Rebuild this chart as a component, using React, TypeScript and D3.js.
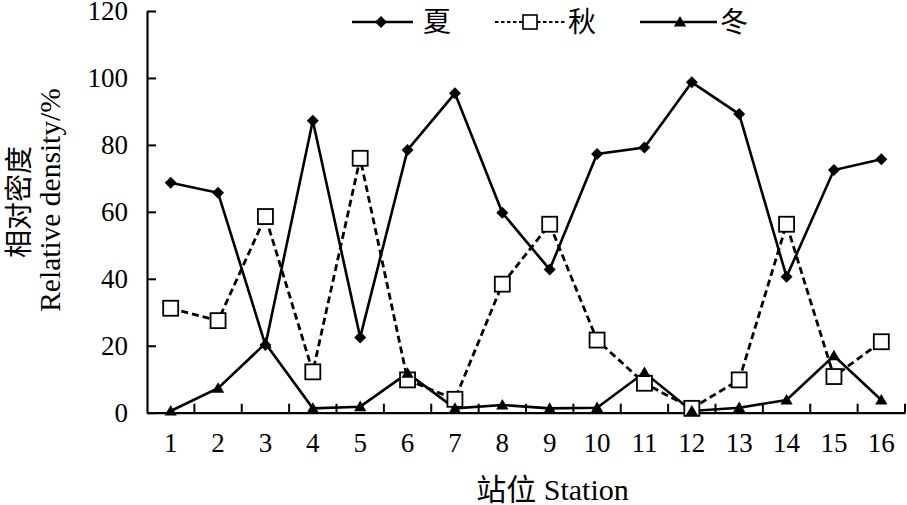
import React, { useEffect, useRef } from 'react';
import * as d3 from 'd3';

const stations = ['1', '2', '3', '4', '5', '6', '7', '8', '9', '10', '11', '12', '13', '14', '15', '16'];
const summer = [68.7, 65.7, 20.2, 87.2, 22.5, 78.5, 95.4, 59.7, 42.8, 77.3, 79.2, 98.7, 89.2, 40.6, 72.5, 75.7];
const autumn = [31.2, 27.5, 58.6, 12.2, 76.0, 9.8, 4.0, 38.4, 56.3, 21.7, 8.8, 1.3, 9.8, 56.3, 10.8, 21.2];
const winter = [0.5, 7.3, 20.7, 1.3, 1.8, 11.8, 1.3, 2.3, 1.3, 1.5, 12.0, 0.5, 1.5, 3.8, 17.0, 3.8];
const yTicks = [0, 20, 40, 60, 80, 100, 120];
const seriesNames = ['夏', '秋', '冬'];

const SERIF = '"Liberation Serif", "Times New Roman", "Noto Sans CJK SC", serif';
const CJK = '"Noto Sans CJK SC", "Liberation Serif", serif';

export default function App() {
  const svgRef = useRef<SVGSVGElement>(null);

  useEffect(() => {
    if (!svgRef.current) return;
    const svg = d3.select(svgRef.current);
    svg.selectAll('*').remove();

    const left = 147, right = 905, top = 11, bottom = 412.7;

    const x = d3.scaleBand<string>().domain(stations).range([left, right]).padding(0);
    const y = d3.scaleLinear().domain([0, 120]).range([bottom, top]);
    const cx = (s: string) => (x(s) || 0) + x.bandwidth() / 2;

    // y axis
    const yAxis = svg.append('g')
      .attr('transform', `translate(${left},0)`)
      .call(d3.axisLeft(y).tickValues(yTicks).tickSize(-9).tickPadding(19).tickSizeOuter(0));
    yAxis.select('.domain').attr('stroke', '#000').attr('stroke-width', 2.2);
    yAxis.selectAll('.tick line').attr('stroke', '#000').attr('stroke-width', 2);
    yAxis.selectAll('.tick text')
      .attr('font-family', SERIF).attr('font-size', 27).attr('fill', '#000');

    // x axis
    const xAxis = svg.append('g')
      .attr('transform', `translate(0,${bottom})`)
      .call(d3.axisBottom(x).tickSize(0).tickPadding(20).tickSizeOuter(0));
    xAxis.select('.domain').attr('stroke', '#000').attr('stroke-width', 2.2);
    xAxis.selectAll('.tick text')
      .attr('font-family', SERIF).attr('font-size', 27).attr('fill', '#000');

    // ticks between stations, pointing inward
    const bounds = d3.range(stations.length + 1).map(i => left + i * x.step());
    svg.append('g').selectAll('line').data(bounds.slice(1)).enter().append('line')
      .attr('x1', d => d).attr('x2', d => d)
      .attr('y1', bottom).attr('y2', bottom - 9)
      .attr('stroke', '#000').attr('stroke-width', 2);

    const line = d3.line<number>()
      .x((_, i) => cx(stations[i]))
      .y(d => y(d));

    const diamond = d3.symbol().type(d3.symbolSquare).size(72);
    const tri = d3.symbol().type(d3.symbolTriangle).size(65);

    // autumn (dashed, open squares)
    svg.append('path').datum(autumn).attr('d', line)
      .attr('fill', 'none').attr('stroke', '#000').attr('stroke-width', 2.8)
      .attr('stroke-dasharray', '7,4');
    // winter
    svg.append('path').datum(winter).attr('d', line)
      .attr('fill', 'none').attr('stroke', '#000').attr('stroke-width', 2.6);
    // summer
    svg.append('path').datum(summer).attr('d', line)
      .attr('fill', 'none').attr('stroke', '#000').attr('stroke-width', 2.6);

    svg.append('g').selectAll('rect').data(autumn).enter().append('rect')
      .attr('x', (_, i) => cx(stations[i]) - 7.5)
      .attr('y', d => y(d) - 7.5)
      .attr('width', 15).attr('height', 15)
      .attr('fill', '#fff').attr('stroke', '#000').attr('stroke-width', 1.8);

    svg.append('g').selectAll('path').data(winter).enter().append('path')
      .attr('d', tri)
      .attr('transform', (d, i) => `translate(${cx(stations[i])},${y(d) + 1})`)
      .attr('fill', '#000');

    svg.append('g').selectAll('path').data(summer).enter().append('path')
      .attr('d', diamond)
      .attr('transform', (d, i) => `translate(${cx(stations[i])},${y(d)}) rotate(45)`)
      .attr('fill', '#000');

    // legend
    const ly = 22;
    const leg = svg.append('g');
    leg.append('line').attr('x1', 352).attr('x2', 413).attr('y1', ly).attr('y2', ly)
      .attr('stroke', '#000').attr('stroke-width', 2.5);
    leg.append('path').attr('d', diamond).attr('transform', `translate(381,${ly}) rotate(45)`).attr('fill', '#000');
    leg.append('text').attr('x', 423).attr('y', ly + 10).text(seriesNames[0])
      .attr('font-family', CJK).attr('font-size', 28);

    leg.append('line').attr('x1', 495).attr('x2', 566).attr('y1', ly).attr('y2', ly)
      .attr('stroke', '#000').attr('stroke-width', 2.2).attr('stroke-dasharray', '3.5,2.5');
    leg.append('rect').attr('x', 523).attr('y', ly - 7).attr('width', 14).attr('height', 14)
      .attr('fill', '#fff').attr('stroke', '#000').attr('stroke-width', 1.6);
    leg.append('text').attr('x', 568).attr('y', ly + 10).text(seriesNames[1])
      .attr('font-family', CJK).attr('font-size', 28);

    leg.append('line').attr('x1', 640).attr('x2', 717).attr('y1', ly).attr('y2', ly)
      .attr('stroke', '#000').attr('stroke-width', 2.5);
    leg.append('path').attr('d', tri).attr('transform', `translate(680,${ly + 1})`).attr('fill', '#000');
    leg.append('text').attr('x', 720).attr('y', ly + 10).text(seriesNames[2])
      .attr('font-family', CJK).attr('font-size', 28);

    // axis titles
    svg.append('text')
      .attr('x', 552.5).attr('y', 500)
      .attr('text-anchor', 'middle')
      .attr('font-family', SERIF).attr('font-size', 30)
      .text('站位 Station');

    svg.append('text')
      .attr('transform', 'rotate(-90)')
      .attr('x', -202).attr('y', 29)
      .attr('text-anchor', 'middle')
      .attr('font-family', CJK).attr('font-size', 28)
      .text('相对密度');

    svg.append('text')
      .attr('transform', 'rotate(-90)')
      .attr('x', -200).attr('y', 60)
      .attr('text-anchor', 'middle')
      .attr('font-family', SERIF).attr('font-size', 29.5)
      .text('Relative density/%');
  }, []);

  return (
    <div style={{ position: 'absolute', left: 0, top: 0, background: '#fff' }}>
      <svg ref={svgRef} width={907} height={505} style={{ display: 'block' }} />
    </div>
  );
}
